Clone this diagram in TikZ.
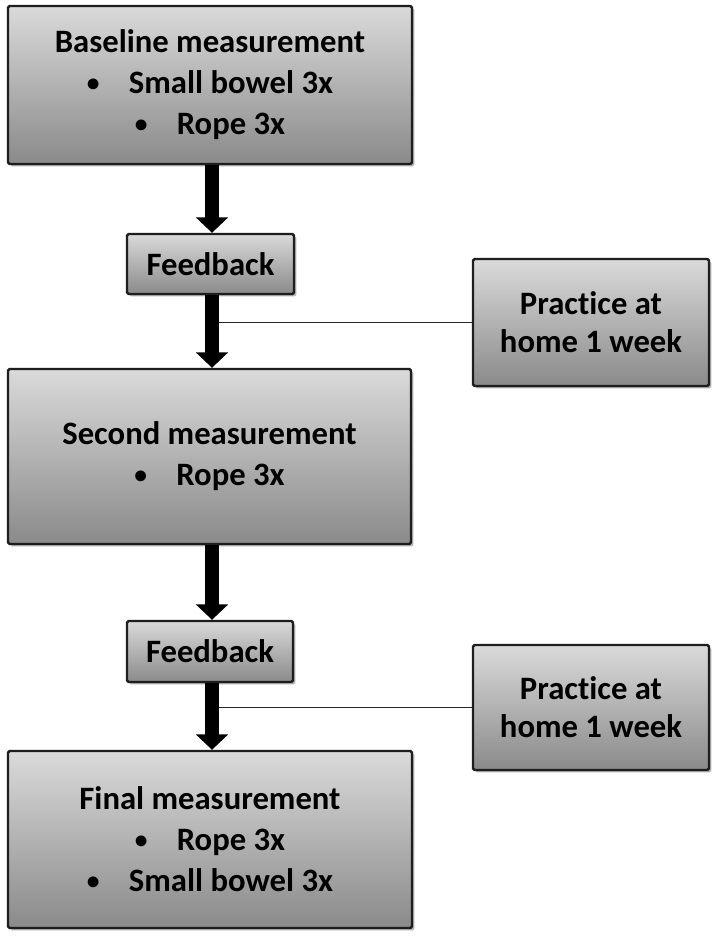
\documentclass[tikz,border=0pt]{standalone}
\usepackage{graphicx}
\usepackage{fontspec}
\setmainfont[Ligatures=NoCommon]{Carlito}
\usetikzlibrary{arrows.meta,shadows}
\definecolor{boxtop}{RGB}{218,218,218}
\definecolor{boxbot}{RGB}{138,138,138}
\definecolor{boxline}{RGB}{30,30,30}
\tikzset{
  gbox/.style={draw=boxline, line width=1.8pt, rounded corners=1.2pt,
    top color=boxtop, bottom color=boxbot, inner sep=0pt, align=center,
    font=\bfseries\fontsize{24.5}{30.75}\selectfont,
    drop shadow={shadow xshift=1.8pt, shadow yshift=-1.8pt, opacity=0.3, fill=black}},
  bigarrow/.style={line width=10.5pt, -{Triangle[width=23.5pt,length=11.5pt]}, black},
  thinline/.style={line width=1.3pt, black!85}
}
\newcommand{\bul}{\raisebox{0.06em}{\scalebox{0.78}{•}}\hspace{22pt}}
\begin{document}
\begin{tikzpicture}[x=0.75pt,y=-0.75pt]
\useasboundingbox[fill=white] (0,0) rectangle (714,937);
\node[gbox, minimum width=303pt, minimum height=118.5pt] (base) at (210,85)
  {Baseline measurement\\ \bul Small bowel 3x\\ \bul Rope 3x};
\node[gbox, minimum width=125.25pt, minimum height=45pt] (fb1) at (210.5,264) {Feedback};
\node[gbox, minimum width=177pt, minimum height=95.25pt, font=\bfseries\fontsize{24.5}{28.5}\selectfont] (pr1) at (591,322.5)
  {Practice at\\ home 1 week};
\node[gbox, minimum width=302.25pt, minimum height=131.25pt] (sec) at (209.5,456.5)
  {Second measurement\\ \bul Rope 3x};
\node[gbox, minimum width=124.5pt, minimum height=45.75pt] (fb2) at (210,651.5) {Feedback};
\node[gbox, minimum width=177pt, minimum height=93.75pt, font=\bfseries\fontsize{24.5}{28.5}\selectfont] (pr2) at (591,707.5)
  {Practice at\\ home 1 week};
\node[gbox, minimum width=303pt, minimum height=132.75pt] (fin) at (210,839.5)
  {Final measurement\\ \bul Rope 3x\\ \bul Small bowel 3x};
\coordinate (j1) at (214,322.5);
\coordinate (j2) at (214,707.5);
\draw[thinline] (pr1.west) -- (j1);
\draw[thinline] (pr2.west) -- (j2);
\draw[bigarrow] (base.south -| 212,0) -- (fb1.north -| 212,0);
\draw[bigarrow] (fb1.south -| 212,0) -- (sec.north -| 212,0);
\draw[bigarrow] (sec.south -| 212,0) -- (fb2.north -| 212,0);
\draw[bigarrow] (fb2.south -| 212,0) -- (fin.north -| 212,0);
\end{tikzpicture}
\end{document}
